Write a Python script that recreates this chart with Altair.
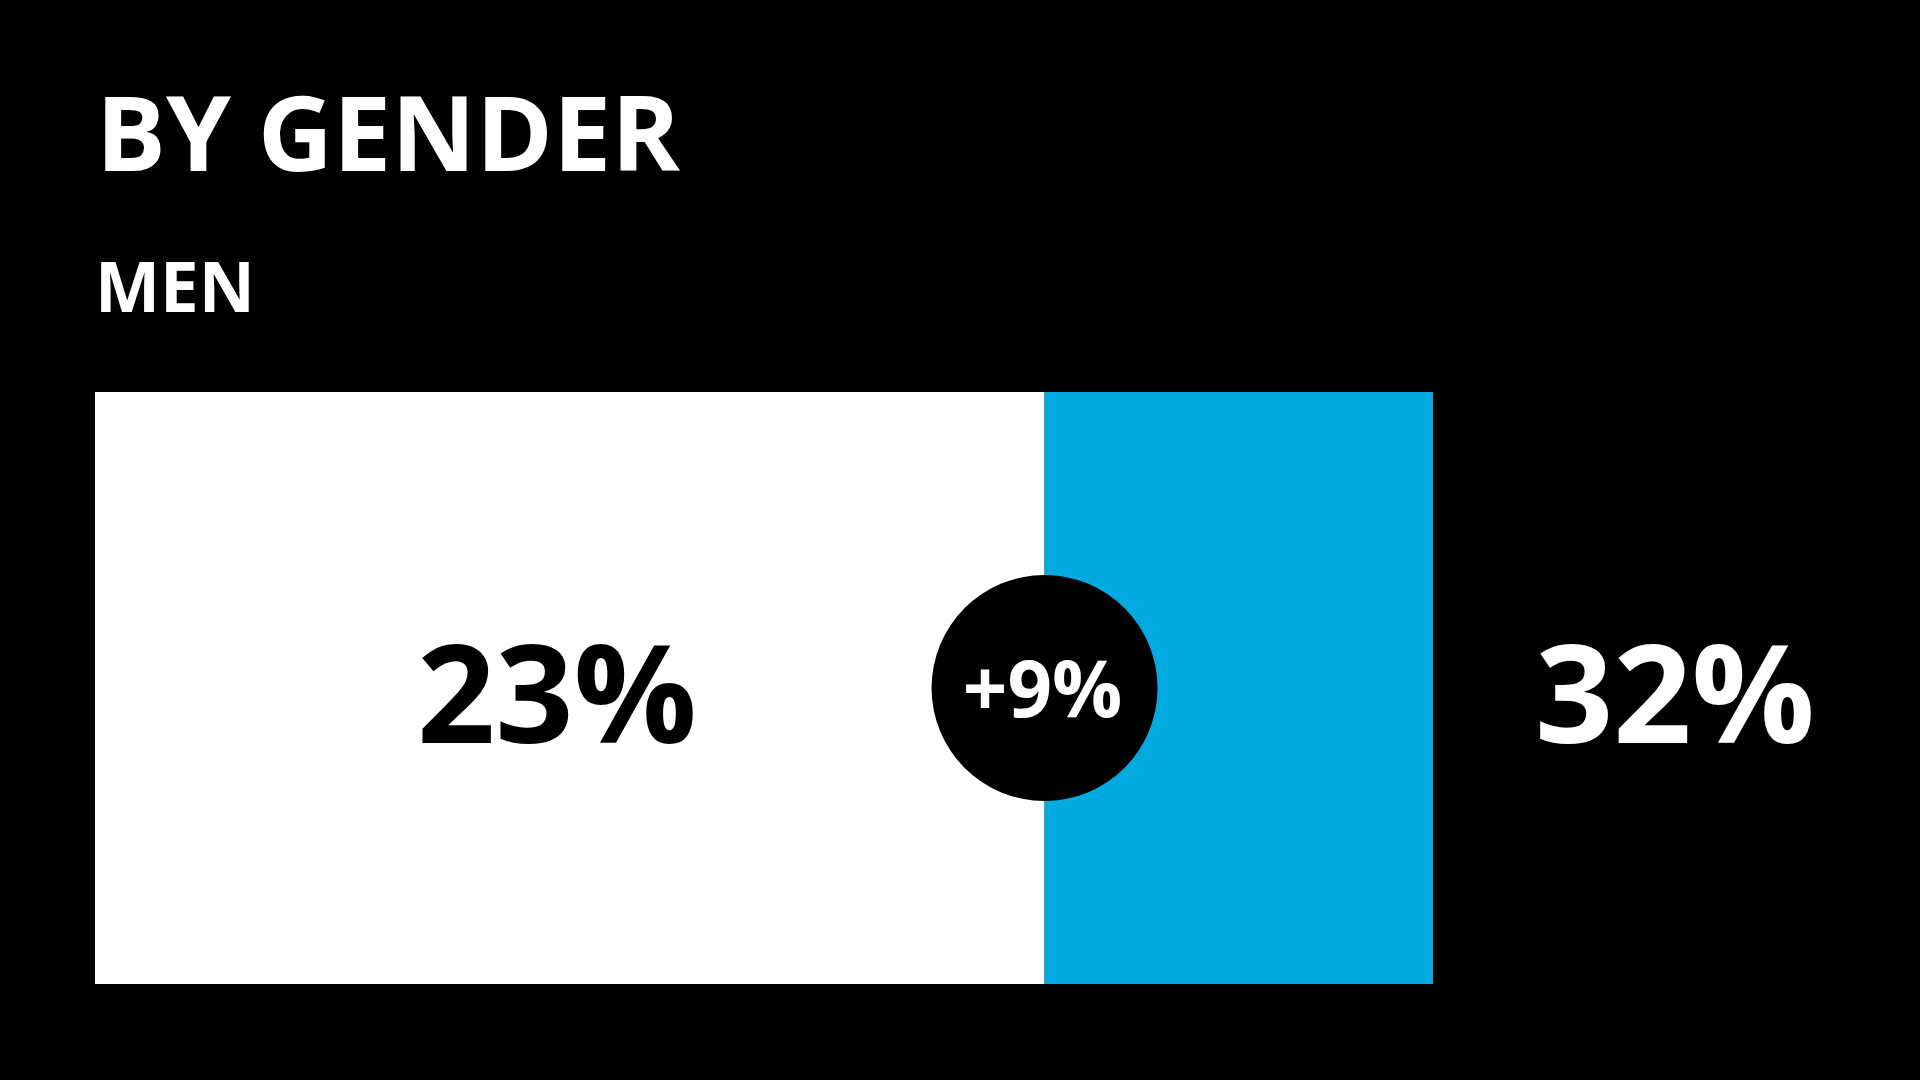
import altair as alt
import pandas as pd

# ---- data ----
title_text = "BY GENDER"
group_label = "MEN"
segments = ["base", "gain"]
seg_start = [0, 23]
seg_end = [23, 32]
seg_colors = ["#FFFFFF", "#00A9E0"]
value_labels = ["23%", "32%"]
change_label = "+9%"
change_at = [23]

W, H = 1920, 1080
BAR_TOP, BAR_BOTTOM = 392, 984
FONT = "Open Sans"

xscale = alt.Scale(domain=[1, 32], range=[95, 1433], clamp=True, zero=False, nice=False)

bars_df = pd.DataFrame({"segment": segments, "start": seg_start, "end": seg_end})
bars = alt.Chart(bars_df).mark_rect().encode(
    x=alt.X("start:Q", scale=xscale, axis=None),
    x2="end:Q",
    y=alt.value(BAR_TOP),
    y2=alt.value(BAR_BOTTOM),
    color=alt.Color("segment:N", scale=alt.Scale(domain=segments, range=seg_colors), legend=None),
)

circle_df = pd.DataFrame({"at": change_at, "label": [change_label]})
circle = alt.Chart(circle_df).mark_point(filled=True, shape="circle", size=226 * 226, color="#000000", opacity=1).encode(
    x=alt.X("at:Q", scale=xscale, axis=None),
    y=alt.value(688),
)
change_text = alt.Chart(circle_df).mark_text(
    font=FONT, fontWeight="bold", fontSize=78, color="#FFFFFF", align="center", baseline="alphabetic", dx=-2
).encode(
    x=alt.X("at:Q", scale=xscale, axis=None),
    y=alt.value(717),
    text="label:N",
)

lab_df = pd.DataFrame({"label": value_labels, "px": [557, 1675], "col": ["#000000", "#FFFFFF"]})
labels = alt.Chart(lab_df).mark_text(
    font=FONT, fontWeight="bold", fontSize=137, align="center", baseline="alphabetic"
).encode(
    x=alt.X("px:Q", scale=None),
    y=alt.value(743),
    text="label:N",
    color=alt.Color("col:N", scale=None),
)

head_df = pd.DataFrame({"label": [title_text, group_label], "px": [96, 95], "py": [171, 312]})
title = alt.Chart(head_df.iloc[[0]]).mark_text(
    font=FONT, fontWeight="bold", fontSize=104, color="#FFFFFF", align="left", baseline="alphabetic"
).encode(x=alt.X("px:Q", scale=None), y=alt.Y("py:Q", scale=None), text="label:N")
sub = alt.Chart(head_df.iloc[[1]]).mark_text(
    font=FONT, fontWeight="bold", fontSize=69, color="#FFFFFF", align="left", baseline="alphabetic"
).encode(x=alt.X("px:Q", scale=None), y=alt.Y("py:Q", scale=None), text="label:N")

chart = alt.layer(bars, circle, change_text, labels, title, sub).properties(
    width=W, height=H, background="#000000", padding=0,
    autosize=alt.AutoSizeParams(type="none"),
).configure_view(stroke=None).resolve_scale(x="independent", color="independent")

chart.save("out.html", embed_options={"renderer": "svg", "actions": False})
